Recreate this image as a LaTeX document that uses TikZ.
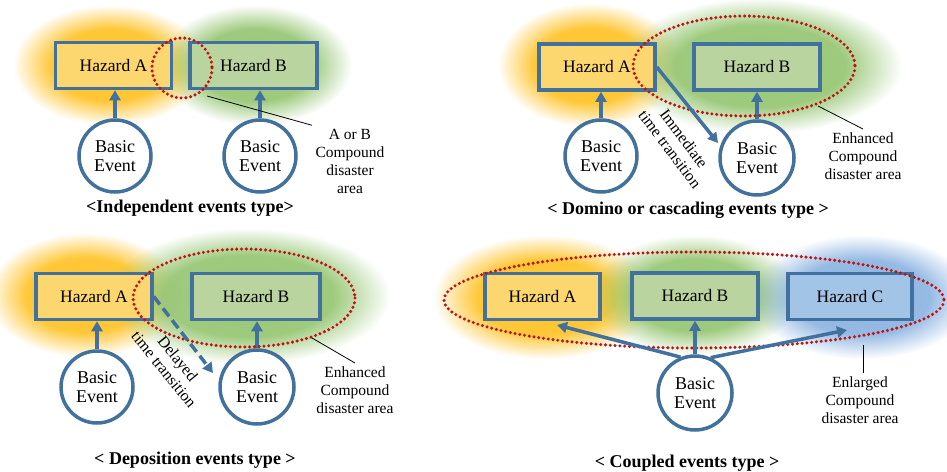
\documentclass[tikz,border=0pt]{standalone}
\usepackage{fontspec}
\setmainfont{Liberation Serif}
\usetikzlibrary{arrows.meta,fadings}
\definecolor{hzblue}{RGB}{65,113,156}
\definecolor{dred}{RGB}{192,20,20}
\definecolor{glowY}{RGB}{255,195,40}
\definecolor{glowG}{RGB}{150,198,115}
\definecolor{glowB}{RGB}{140,180,225}
\definecolor{fillY}{RGB}{252,214,110}
\definecolor{fillG}{RGB}{185,212,158}
\definecolor{fillB}{RGB}{162,196,230}
\pgfdeclareradialshading{glowshade}{\pgfpointorigin}{color(0bp)=(pgftransparent!0); color(15bp)=(pgftransparent!8); color(25bp)=(pgftransparent!100); color(50bp)=(pgftransparent!100)}
\pgfdeclarefading{glowfade}{\pgfuseshading{glowshade}}
\tikzset{
  hz/.style={draw=hzblue, line width=3.5pt, minimum width=116pt, minimum height=46pt, inner sep=0pt, font=\fontsize{17.5}{20}\selectfont},
  bev/.style={circle, draw=hzblue, fill=white, line width=3.5pt, minimum size=72pt, inner sep=0pt, align=center, font=\fontsize{18}{19}\selectfont},
  arr/.style={draw=hzblue, line width=3.5pt, -{Triangle[length=10pt,width=11pt]}},
  reddot/.style={draw=dred, line width=3.4pt, line cap=round, dash pattern=on 0pt off 4.8pt},
  note/.style={align=center, font=\fontsize{15.5}{18}\selectfont},
  rtext/.style={align=center, font=\fontsize{16}{17.5}\selectfont, inner sep=0pt},
  capt/.style={font=\bfseries\fontsize{18}{20}\selectfont},
  glow/.style={path fading=glowfade, fill=#1}
}
\begin{document}
\begin{tikzpicture}[x=1pt,y=-1pt]
\useasboundingbox (0,0) rectangle (947,471);
% ---------------- glows ----------------
\fill[glow=glowY] (110,65) ellipse (97 and 60);
\fill[glow=glowG] (255,65) ellipse (97 and 60);
\fill[glow=glowY] (590,65) ellipse (92 and 62);
\fill[glow=glowG] (760,66) ellipse (142 and 68);
\fill[glow=glowY] (85,295) ellipse (97 and 62);
\fill[glow=glowG] (248,296) ellipse (142 and 68);
\fill[glow=glowY] (545,297) ellipse (112 and 62);
\fill[glow=glowG] (695,295) ellipse (105 and 60);
\fill[glow=glowB] (862,297) ellipse (112 and 62);
% ================= Panel 1 =================
\node[hz, fill=fillY] (a1) at (113.5,65.5) {Hazard A};
\node[hz, fill=fillG, minimum width=127pt] (b1) at (253.5,65.5) {Hazard B};
\node[bev] (c1) at (115,156) {Basic\\Event};
\node[bev] (d1) at (260,156) {Basic\\Event};
\draw[arr] (c1.north) -- (c1.north |- a1.south);
\draw[arr] (d1.north) -- (d1.north |- b1.south);
\draw[reddot] (182,68) circle (30);
\coordinate (p1) at (207,96);
\node[note] (n1) at (350,161) {A or B\\Compound\\disaster\\area};
\draw[black, line width=0.8pt] (p1) -- (n1.north west);
\node[capt] (t1) at (190,208) {<Independent events type>};
% ================= Panel 2 =================
\node[hz, fill=fillY] (a2) at (597,67) {Hazard A};
\node[hz, fill=fillG, minimum width=126pt] (b2) at (757,67) {Hazard B};
\node[bev] (c2) at (601,156) {Basic\\Event};
\node[bev, minimum size=74pt] (d2) at (757,158) {Basic\\Event};
\draw[arr] (c2.north) -- (c2.north |- a2.south);
\draw[arr] (d2.north) -- (d2.north |- b2.south);
\draw[reddot] (744,66) ellipse (111 and 50);
\coordinate (q2) at (718,143);
\draw[arr] (a2.east) -- (q2);
\node[rtext, rotate=-53] (r2) at (677,144) {Immediate\\time transition};
\coordinate (p2) at (818,106);
\node[note] (n2) at (863,156) {Enhanced\\Compound\\disaster area};
\draw[black, line width=0.8pt] (p2) -- (n2.north);
\node[capt] (t2) at (688,210) {< Domino or cascading events type >};
% ================= Panel 3 =================
\node[hz, fill=fillY] (a3) at (94,296.5) {Hazard A};
\node[hz, fill=fillG, minimum width=128pt] (b3) at (256,296.5) {Hazard B};
\node[bev] (c3) at (97,387) {Basic\\Event};
\node[bev, minimum size=74pt] (d3) at (257,387) {Basic\\Event};
\draw[arr] (c3.north) -- (c3.north |- a3.south);
\draw[arr] (d3.north) -- (d3.north |- b3.south);
\draw[reddot] (244,298) ellipse (111 and 49);
\coordinate (q3) at (213,373);
\draw[arr, dash pattern=on 10pt off 5pt] (a3.east) -- (q3);
\node[rtext, rotate=-51] (r3) at (171,364) {Delayed\\time transition};
\coordinate (p3) at (312,338);
\node[note] (n3) at (355,390) {Enhanced\\Compound\\disaster area};
\draw[black, line width=0.8pt] (p3) -- (n3.north);
\node[capt] (t3) at (195,460) {< Deposition events type >};
% ================= Panel 4 =================
\node[hz, fill=fillY, minimum width=115pt] (a4) at (542.5,296.5) {Hazard A};
\node[hz, fill=fillG, minimum width=126pt] (b4) at (695,296) {Hazard B};
\node[hz, fill=fillB, minimum width=124pt] (e4) at (850,296.5) {Hazard C};
\node[bev, minimum size=74pt] (c4) at (695,393) {Basic\\Event};
\draw[reddot] (694,300) ellipse (250 and 48);
\coordinate (qa) at (557,325);
\coordinate (qc) at (847,330);
\draw[arr] (c4.112) -- (qa);
\draw[arr] (c4.north) -- (c4.north |- b4.south);
\draw[arr] (c4.66) -- (qc);
\coordinate (p4) at (863,345);
\node[note] (n4) at (860,400) {Enlarged\\Compound\\disaster area};
\draw[black, line width=0.8pt] (p4) -- (n4.north -| p4);
\node[capt] (t4) at (687,463) {< Coupled events type >};
\end{tikzpicture}
\end{document}
